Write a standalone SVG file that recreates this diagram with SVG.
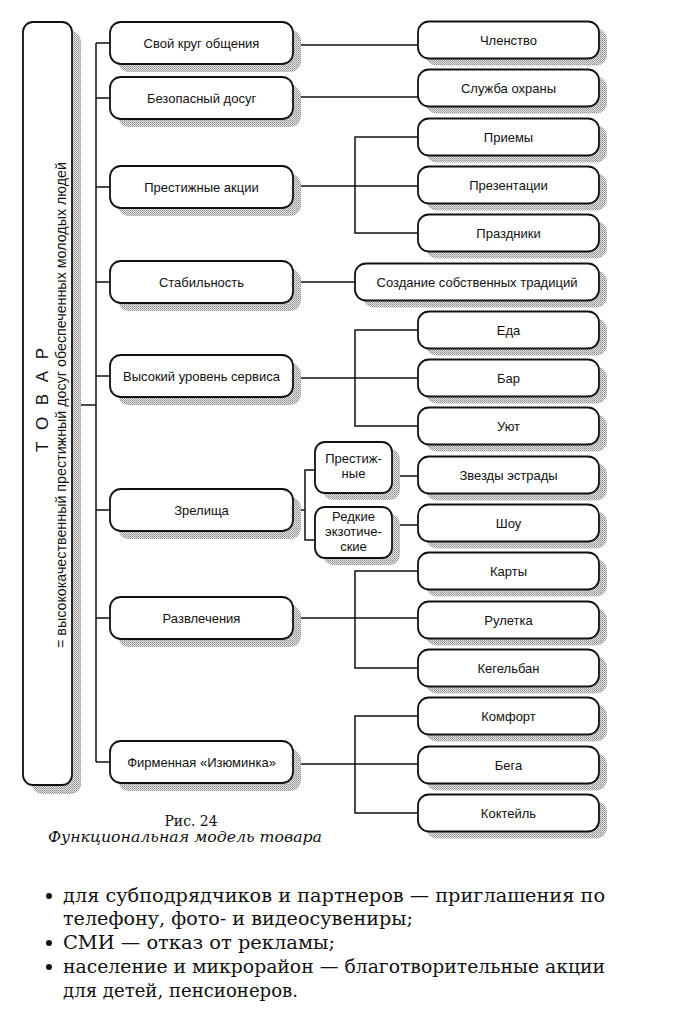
<svg xmlns="http://www.w3.org/2000/svg" width="674" height="1026" viewBox="0 0 674 1026">
<defs>
<pattern id="dots" width="2" height="2" patternUnits="userSpaceOnUse">
<rect width="2" height="2" fill="#e4e4e4"/>
<rect width="1" height="1" fill="#8c8c8c"/>
<rect x="1" y="1" width="1" height="1" fill="#a8a8a8"/>
</pattern>
<style>
.sh{fill:url(#dots);stroke:none}
.bx{fill:#fff;stroke:#111;stroke-width:1.8}
.t{font-family:"Liberation Sans",Arial,sans-serif;font-size:13px;fill:#111;text-anchor:middle}
.c{fill:none;stroke:#111;stroke-width:1.5}
.body{font-family:"DejaVu Serif","Liberation Serif",serif;font-size:18px;fill:#111}
.cap{font-family:"DejaVu Serif","Liberation Serif",serif;font-size:15px;fill:#111;text-anchor:middle}
</style>
</defs>
<rect width="674" height="1026" fill="#fff"/>

<g id="connectors">
<path class="c" d="M96 43 V762"/>
<path class="c" d="M72 405 H96"/>
<path class="c" d="M96 43 H110 M96 98 H110 M96 187 H110 M96 282 H110 M96 376 H110 M96 510 H110 M96 618 H110 M96 762 H110"/>
<path class="c" d="M293 45 H418"/>
<path class="c" d="M293 97 H418"/>
<path class="c" d="M293 186 H418 M418 137 H355 V233 H418"/>
<path class="c" d="M293 282 H355"/>
<path class="c" d="M293 378 H418 M418 330 H355 V426 H418"/>
<path class="c" d="M293 510 H305 M315 470 H305 V540 H315"/>
<path class="c" d="M392 476 H418"/>
<path class="c" d="M392 525 H418"/>
<path class="c" d="M293 618 H418 M418 571 H355 V668 H418"/>
<path class="c" d="M293 764 H418 M418 716 H355 V813 H418"/>
</g>

<g id="tovar">
<rect class="sh" x="32" y="31" width="49" height="763" rx="10"/>
<rect class="bx" x="23" y="22" width="49" height="763" rx="10"/>
<text transform="translate(48,400) rotate(-90)" font-family="Liberation Sans,Arial,sans-serif" font-size="17" fill="#111" text-anchor="middle" textLength="104" lengthAdjust="spacing">Т О В А Р</text>
<text transform="translate(66,405) rotate(-90)" font-family="Liberation Sans,Arial,sans-serif" font-size="14" fill="#111" text-anchor="middle" textLength="486" lengthAdjust="spacingAndGlyphs">= высококачественный престижный досуг обеспеченных молодых людей</text>
</g>

<g id="l1"><rect class="sh" x="118" y="30" width="183" height="42" rx="11"/><rect class="bx" x="110" y="22" width="183" height="42" rx="11"/><text class="t" x="201.5" y="47.5">Свой круг общения</text></g>
<g id="l2"><rect class="sh" x="118" y="85" width="183" height="42" rx="11"/><rect class="bx" x="110" y="77" width="183" height="42" rx="11"/><text class="t" x="201.5" y="102.5">Безопасный досуг</text></g>
<g id="l3"><rect class="sh" x="118" y="174" width="183" height="42" rx="11"/><rect class="bx" x="110" y="166" width="183" height="42" rx="11"/><text class="t" x="201.5" y="191.5">Престижные акции</text></g>
<g id="l4"><rect class="sh" x="118" y="269" width="183" height="42" rx="11"/><rect class="bx" x="110" y="261" width="183" height="42" rx="11"/><text class="t" x="201.5" y="286.5">Стабильность</text></g>
<g id="l5"><rect class="sh" x="118" y="363" width="183" height="42" rx="11"/><rect class="bx" x="110" y="355" width="183" height="42" rx="11"/><text class="t" x="201.5" y="380.5">Высокий уровень сервиса</text></g>
<g id="l6"><rect class="sh" x="118" y="497" width="183" height="42" rx="11"/><rect class="bx" x="110" y="489" width="183" height="42" rx="11"/><text class="t" x="201.5" y="514.5">Зрелища</text></g>
<g id="l7"><rect class="sh" x="118" y="605" width="183" height="42" rx="11"/><rect class="bx" x="110" y="597" width="183" height="42" rx="11"/><text class="t" x="201.5" y="622.5">Развлечения</text></g>
<g id="l8"><rect class="sh" x="118" y="749" width="183" height="42" rx="11"/><rect class="bx" x="110" y="741" width="183" height="42" rx="11"/><text class="t" x="201.5" y="766.5">Фирменная «Изюминка»</text></g>

<g id="s1"><rect class="sh" x="323" y="449" width="77" height="51" rx="10"/><rect class="bx" x="315" y="442" width="77" height="51" rx="10"/><text class="t" x="353.5" y="463">Престиж-</text><text class="t" x="353.5" y="478">ные</text></g>
<g id="s2"><rect class="sh" x="323" y="514" width="77" height="51" rx="10"/><rect class="bx" x="315" y="507" width="77" height="51" rx="10"/><text class="t" x="353.5" y="521">Редкие</text><text class="t" x="353.5" y="536">экзотиче-</text><text class="t" x="353.5" y="551">ские</text></g>

<g id="r0"><rect class="sh" x="426" y="28.5" width="181" height="37" rx="11"/><rect class="bx" x="418" y="21.5" width="181" height="37" rx="11"/><text class="t" x="508.5" y="44.5">Членство</text></g>
<g id="r1"><rect class="sh" x="426" y="76.5" width="181" height="37" rx="11"/><rect class="bx" x="418" y="69.5" width="181" height="37" rx="11"/><text class="t" x="508.5" y="92.5">Служба охраны</text></g>
<g id="r2"><rect class="sh" x="426" y="125.5" width="181" height="37" rx="11"/><rect class="bx" x="418" y="118.5" width="181" height="37" rx="11"/><text class="t" x="508.5" y="141.5">Приемы</text></g>
<g id="r3"><rect class="sh" x="426" y="173.5" width="181" height="37" rx="11"/><rect class="bx" x="418" y="166.5" width="181" height="37" rx="11"/><text class="t" x="508.5" y="189.5">Презентации</text></g>
<g id="r4"><rect class="sh" x="426" y="221.5" width="181" height="37" rx="11"/><rect class="bx" x="418" y="214.5" width="181" height="37" rx="11"/><text class="t" x="508.5" y="237.5">Праздники</text></g>
<g id="r5"><rect class="sh" x="363" y="270.5" width="244" height="37" rx="11"/><rect class="bx" x="355" y="263.5" width="244" height="37" rx="11"/><text class="t" x="477" y="286.5">Создание собственных традиций</text></g>
<g id="r6"><rect class="sh" x="426" y="318.5" width="181" height="37" rx="11"/><rect class="bx" x="418" y="311.5" width="181" height="37" rx="11"/><text class="t" x="508.5" y="334.5">Еда</text></g>
<g id="r7"><rect class="sh" x="426" y="366.5" width="181" height="37" rx="11"/><rect class="bx" x="418" y="359.5" width="181" height="37" rx="11"/><text class="t" x="508.5" y="382.5">Бар</text></g>
<g id="r8"><rect class="sh" x="426" y="414.5" width="181" height="37" rx="11"/><rect class="bx" x="418" y="407.5" width="181" height="37" rx="11"/><text class="t" x="508.5" y="430.5">Уют</text></g>
<g id="r9"><rect class="sh" x="426" y="463.5" width="181" height="37" rx="11"/><rect class="bx" x="418" y="456.5" width="181" height="37" rx="11"/><text class="t" x="508.5" y="479.5">Звезды эстрады</text></g>
<g id="r10"><rect class="sh" x="426" y="511.5" width="181" height="37" rx="11"/><rect class="bx" x="418" y="504.5" width="181" height="37" rx="11"/><text class="t" x="508.5" y="527.5">Шоу</text></g>
<g id="r11"><rect class="sh" x="426" y="559.5" width="181" height="37" rx="11"/><rect class="bx" x="418" y="552.5" width="181" height="37" rx="11"/><text class="t" x="508.5" y="575.5">Карты</text></g>
<g id="r12"><rect class="sh" x="426" y="608.5" width="181" height="37" rx="11"/><rect class="bx" x="418" y="601.5" width="181" height="37" rx="11"/><text class="t" x="508.5" y="624.5">Рулетка</text></g>
<g id="r13"><rect class="sh" x="426" y="656.5" width="181" height="37" rx="11"/><rect class="bx" x="418" y="649.5" width="181" height="37" rx="11"/><text class="t" x="508.5" y="672.5">Кегельбан</text></g>
<g id="r14"><rect class="sh" x="426" y="704.5" width="181" height="37" rx="11"/><rect class="bx" x="418" y="697.5" width="181" height="37" rx="11"/><text class="t" x="508.5" y="720.5">Комфорт</text></g>
<g id="r15"><rect class="sh" x="426" y="753.5" width="181" height="37" rx="11"/><rect class="bx" x="418" y="746.5" width="181" height="37" rx="11"/><text class="t" x="508.5" y="769.5">Бега</text></g>
<g id="r16"><rect class="sh" x="426" y="801.5" width="181" height="37" rx="11"/><rect class="bx" x="418" y="794.5" width="181" height="37" rx="11"/><text class="t" x="508.5" y="817.5">Коктейль</text></g>

<g id="caption">
<text class="cap" x="191" y="826" textLength="53" lengthAdjust="spacingAndGlyphs">Рис. 24</text>
<text class="cap" x="185" y="842" font-style="italic" textLength="274" lengthAdjust="spacingAndGlyphs">Функциональная модель товара</text>
</g>

<g id="bodytext">
<circle cx="49" cy="896" r="3" fill="#111"/>
<circle cx="49" cy="943" r="3" fill="#111"/>
<circle cx="49" cy="967" r="3" fill="#111"/>
<text class="body" x="63" y="902" textLength="542" lengthAdjust="spacingAndGlyphs">для субподрядчиков и партнеров — приглашения по</text>
<text class="body" x="63" y="925" textLength="350" lengthAdjust="spacingAndGlyphs">телефону, фото- и видеосувениры;</text>
<text class="body" x="63" y="949" textLength="272" lengthAdjust="spacingAndGlyphs">СМИ — отказ от рекламы;</text>
<text class="body" x="63" y="973" textLength="542" lengthAdjust="spacingAndGlyphs">население и микрорайон — благотворительные акции</text>
<text class="body" x="63" y="997" textLength="235" lengthAdjust="spacingAndGlyphs">для детей, пенсионеров.</text>
</g>
</svg>
